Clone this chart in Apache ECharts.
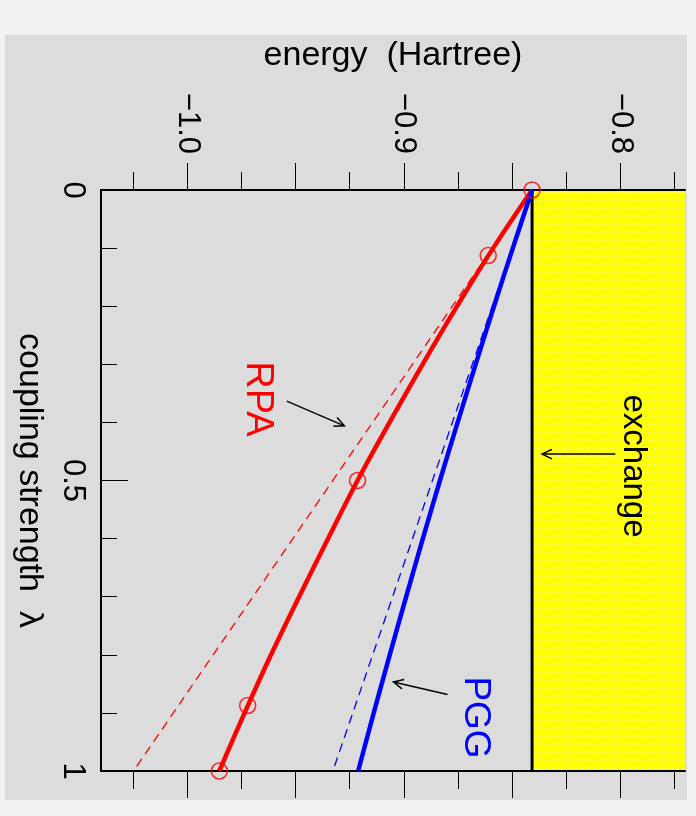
<!DOCTYPE html>
<html><head><meta charset="utf-8">
<script src="https://cdn.jsdelivr.net/npm/echarts@6/dist/echarts.min.js"></script>
<style>
html,body{margin:0;padding:0;background:#f2f2f2;}
#wrap{position:relative;width:696px;height:816px;background:#f2f2f2;overflow:hidden;}
#panel{position:absolute;left:5px;top:35px;width:682px;height:765px;background:#dcdcdc;}
#chart{position:absolute;left:0;top:0;width:696px;height:816px;}
</style></head><body>
<div id="wrap"><div id="panel"></div><div id="chart"></div></div>
<script>
// ---- data (energy in Hartree, coupling strength lambda) ----
const lambdaGrid = [0, 0.1, 0.2, 0.3, 0.4, 0.5, 0.6, 0.7, 0.8, 0.9, 1.0];
const rpaEnergy  = [-0.8407, -0.8587, -0.8754, -0.8913, -0.9066, -0.9214, -0.9350, -0.9484, -0.9614, -0.9736, -0.9853];
const pggEnergy  = [-0.8407, -0.8496, -0.8583, -0.8668, -0.8751, -0.8833, -0.8912, -0.8989, -0.9065, -0.9139, -0.9211];
const rpaNodeLambda = [0, 0.1127, 0.5, 0.8873, 1];
const rpaNodeEnergy = [-0.8407, -0.8610, -0.9214, -0.9722, -0.9853];
const tangentLambda = [0, 1];
const rpaTangent = [-0.8407, -1.0250];
const pggTangent = [-0.8407, -0.9328];
const exchangeEnergy = -0.8407;
const energyMin = -1.04, energyMax = -0.77;
const energyLabels = [-1.0, -0.9, -0.8];
const energyMajorTicks = [-1.0, -0.95, -0.9, -0.85, -0.8];
const energyMinorTicks = [-1.025, -0.975, -0.925, -0.875, -0.825, -0.775];
const lambdaLabels = [0, 0.5, 1];
const lambdaMinorTicks = [0.1, 0.2, 0.3, 0.4, 0.6, 0.7, 0.8, 0.9];
const lambdaMajorTicks = [0.5];
// annotation arrows: [fromEnergy, fromLambda, toEnergy, toLambda]
const arrowRPA = [-0.9541, 0.3634, -0.9275, 0.4059];
const arrowPGG = [-0.8798, 0.8684, -0.9048, 0.8467];
const arrowExchange = [-0.8022, 0.4546, -0.8361, 0.4546];

const FONT = '"Liberation Sans", Arial, Helvetica, sans-serif';
const zip = (xs, ys) => xs.map((x, i) => [x, ys[i]]);
const fmtE = v => (v < 0 ? '\u2212' : '') + Math.abs(v).toFixed(1);

// yellow dotted pattern
const pc = document.createElement('canvas'); pc.width = 3; pc.height = 8;
const g = pc.getContext('2d');
g.fillStyle = '#ffff00'; g.fillRect(0, 0, 3, 8);
g.fillStyle = 'rgba(255,255,255,0.55)'; g.fillRect(0, 0, 1, 1);

function xAx(pos, ticks, len, line, labels, extra) {
  return Object.assign({
    type: 'value', position: pos, min: energyMin, max: energyMax, z: 1,
    axisLine: { show: line, onZero: false, lineStyle: { color: '#000', width: 2 } },
    axisTick: { show: true, customValues: ticks, length: len, lineStyle: { color: '#000', width: 1 } },
    axisLabel: labels ? {
      show: true, customValues: energyLabels, rotate: 90, align: 'right', verticalAlign: 'middle',
      margin: 36, fontSize: 31, fontFamily: FONT, color: '#000', formatter: fmtE
    } : { show: false },
    splitLine: { show: false }
  }, extra || {});
}

const chart = echarts.init(document.getElementById('chart'), null, { renderer: 'canvas' });
chart.setOption({
  animation: false,
  backgroundColor: 'transparent',
  grid: { left: 101, right: 11, top: 190, bottom: 45, containLabel: false },
  xAxis: [
    xAx('top', energyMajorTicks, 27, true, true, {
      name: 'energy  (Hartree)', nameLocation: 'middle', nameGap: 134,
      nameTextStyle: { fontSize: 34, fontFamily: FONT, color: '#000', align: 'center', verticalAlign: 'middle' }
    }),
    xAx('top', energyMinorTicks, 18, false, false),
    xAx('bottom', energyMajorTicks, 27, true, false),
    xAx('bottom', energyMinorTicks, 18, false, false)
  ],
  yAxis: [
    {
      type: 'value', inverse: true, min: 0, max: 1, position: 'left', z: 1,
      axisLine: { show: true, onZero: false, lineStyle: { color: '#000', width: 2 } },
      axisTick: { show: true, inside: true, customValues: lambdaMinorTicks, length: 16, lineStyle: { color: '#000', width: 1 } },
      axisLabel: { show: true, customValues: lambdaLabels, rotate: -90, align: 'center', verticalAlign: 'top',
        margin: 13, fontSize: 31, fontFamily: FONT, color: '#000', formatter: v => String(v) },
      splitLine: { show: false },
      name: 'coupling strength  \u03bb', nameLocation: 'middle', nameGap: 72, nameRotate: -90,
      nameTextStyle: { fontSize: 34, fontFamily: FONT, color: '#000', align: 'center', verticalAlign: 'middle' }
    },
    {
      type: 'value', inverse: true, min: 0, max: 1, position: 'left', z: 1,
      axisLine: { show: false, onZero: false },
      axisTick: { show: true, inside: true, customValues: lambdaMajorTicks, length: 27, lineStyle: { color: '#000', width: 1 } },
      axisLabel: { show: false }, splitLine: { show: false }
    }
  ],
  series: [
    {
      type: 'custom', z: 0, silent: true,
      encode: { x: [0, 1] },
      data: [[exchangeEnergy, energyMax]],
      renderItem: (p, api) => {
        const a = api.coord([api.value(0), 0]);
        const b = api.coord([api.value(1), 1]);
        return { type: 'rect', shape: { x: a[0], y: a[1], width: b[0] - a[0], height: b[1] - a[1] },
          style: { fill: { image: pc, repeat: 'repeat' } } };
      }
    },
    { type: 'line', z: 2, data: zip([exchangeEnergy, exchangeEnergy], [0, 1]), symbol: 'none',
      lineStyle: { color: '#000', width: 3 } },
    { type: 'line', z: 2, data: zip(rpaTangent, tangentLambda), symbol: 'none',
      lineStyle: { color: '#ff0000', width: 1.3, type: [9, 6] } },
    { type: 'line', z: 2, data: zip(pggTangent, tangentLambda), symbol: 'none',
      lineStyle: { color: '#0000ff', width: 1.3, type: [9, 6] } },
    { type: 'line', z: 3, data: zip(rpaEnergy, lambdaGrid), symbol: 'none', smooth: 0.4,
      lineStyle: { color: '#ff0000', width: 4.5 } },
    { type: 'line', z: 3, data: zip(pggEnergy, lambdaGrid), symbol: 'none', smooth: 0.4,
      lineStyle: { color: '#0000ff', width: 4.5 } },
    { type: 'scatter', z: 4, clip: false, data: zip(rpaNodeEnergy, rpaNodeLambda), symbol: 'circle', symbolSize: 16,
      itemStyle: { color: 'rgba(0,0,0,0)', borderColor: '#ff0000', borderWidth: 1.6 } },
    {
      type: 'custom', z: 4, silent: true,
      encode: { x: [0, 2], y: [1, 3] },
      data: [arrowRPA, arrowPGG, arrowExchange],
      renderItem: (p, api) => {
        const p1 = api.coord([api.value(0), api.value(1)]);
        const p2 = api.coord([api.value(2), api.value(3)]);
        const ang = Math.atan2(p2[1] - p1[1], p2[0] - p1[0]);
        const L = 11, a = 0.45;
        const h1 = [p2[0] - L * Math.cos(ang - a), p2[1] - L * Math.sin(ang - a)];
        const h2 = [p2[0] - L * Math.cos(ang + a), p2[1] - L * Math.sin(ang + a)];
        return { type: 'group', children: [
          { type: 'line', shape: { x1: p1[0], y1: p1[1], x2: p2[0], y2: p2[1] }, style: { stroke: '#000', lineWidth: 1.5 } },
          { type: 'polyline', shape: { points: [h1, p2, h2] }, style: { stroke: '#000', lineWidth: 1.5, fill: null } }
        ] };
      }
    }
  ],
  graphic: [
    { type: 'text', x: 257, y: 399, rotation: -Math.PI / 2, z: 10,
      style: { text: 'RPA', fill: '#ff0000', fontSize: 38, fontFamily: FONT, align: 'center', verticalAlign: 'middle' } },
    { type: 'text', x: 475, y: 717.5, rotation: -Math.PI / 2, z: 10,
      style: { text: 'PGG', fill: '#0000ff', fontSize: 37, fontFamily: FONT, align: 'center', verticalAlign: 'middle' } },
    { type: 'text', x: 633, y: 466, rotation: -Math.PI / 2, z: 10,
      style: { text: 'exchange', fill: '#000', fontSize: 33, fontFamily: FONT, align: 'center', verticalAlign: 'middle' } }
  ]
});
</script>
</body></html>
